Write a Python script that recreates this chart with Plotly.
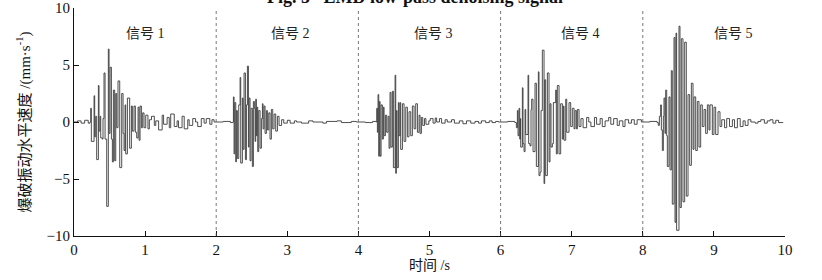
import plotly.graph_objects as go

# ---- data (time in s, velocity in mm/s) ----
t1 = [0.0, 0.05, 0.10, 0.15, 0.20, 0.225,
      0.235, 0.244, 0.282, 0.291, 0.305, 0.319, 0.343, 0.352, 0.366, 0.376, 0.399, 0.408,
      0.422, 0.437, 0.460, 0.483, 0.493, 0.507, 0.526, 0.540, 0.554, 0.572, 0.587, 0.601,
      0.619, 0.643, 0.671, 0.690, 0.704, 0.718, 0.727, 0.751, 0.783, 0.807, 0.821, 0.844,
      0.863, 0.882, 0.901, 0.915, 0.929, 0.948, 0.966, 0.985, 1.009,
      1.04, 1.06, 1.09, 1.13, 1.15, 1.19, 1.24, 1.26, 1.31, 1.34, 1.36, 1.41, 1.45, 1.47,
      1.52, 1.55, 1.60, 1.62, 1.67, 1.71, 1.74, 1.79, 1.83, 1.86, 1.91, 1.94, 1.97]
v1 = [0.0, 0.1, -0.1, 0.15, -0.1, 0.0,
      1.2, -1.7, 2.3, -1.3, 0.5, -3.3, 3.2, -0.8, 0.5, -1.4, -1.5, 0.3,
      4.3, -1.5, -7.4, 6.4, -1.0, 4.8, -1.5, -3.5, 2.8, -3.4, 2.5, -0.5,
      3.6, -4.0, 2.5, -1.0, -2.5, 1.5, -2.8, 2.1, -2.3, 1.4, -0.8, 1.4,
      -0.9, -1.4, 1.3, -1.6, 1.4, -0.5, 0.8, -0.5, 0.6,
      -0.6, 0.2, 0.5, -0.3, 0.1, -0.7, 0.6, -0.2, 0.4, -0.5, 0.7, -0.4, 0.1, -0.5,
      0.5, -0.6, 0.2, -0.3, 0.3, 0.0, -0.4, 0.3, -0.1, 0.3, -0.2, 0.2, 0.0]

t2 = [2.0, 2.1, 2.2, 2.235,
      2.242, 2.251, 2.261, 2.275, 2.284, 2.298, 2.317, 2.336, 2.345, 2.368, 2.378, 2.392,
      2.411, 2.425, 2.439, 2.453, 2.462, 2.476, 2.490, 2.509, 2.523, 2.537, 2.547, 2.556,
      2.565, 2.575, 2.584, 2.598, 2.617, 2.636, 2.650, 2.659, 2.673, 2.687, 2.706, 2.720,
      2.739, 2.757, 2.776, 2.795, 2.814, 2.837, 2.861, 2.884,
      2.92, 2.95, 3.0, 3.04, 3.1, 3.13, 3.2, 3.3, 3.36, 3.5, 3.55, 3.7, 3.76, 3.9, 3.97]
v2 = [0.0, 0.05, -0.05, 0.0,
      2.2, -2.8, 1.7, -3.5, 1.0, -3.2, 1.5, 3.9, -3.6, 2.1, -2.4, 4.3,
      -3.3, 1.5, 4.9, -2.2, 2.1, -3.4, 1.2, -3.9, 1.8, 1.2, -1.7, 2.0,
      -1.2, 1.3, -2.6, 1.0, -2.3, 0.3, 1.6, -0.6, 1.4, -1.0, 1.0, -0.7,
      0.8, -1.5, 1.1, -0.6, 0.7, -0.8, 0.5, -0.3,
      0.2, -0.1, 0.15, -0.1, 0.1, 0.0, -0.1, 0.1, 0.0, -0.1, 0.05, 0.1, -0.05, 0.05, 0.0]

t3 = [4.0, 4.1, 4.2, 4.25,
      4.258, 4.267, 4.276, 4.286, 4.295, 4.305, 4.319, 4.337, 4.351, 4.361, 4.380, 4.398,
      4.417, 4.431, 4.445, 4.459, 4.478, 4.492, 4.516, 4.525, 4.534, 4.544, 4.562, 4.572,
      4.586, 4.595, 4.619, 4.642, 4.666, 4.689, 4.712, 4.736, 4.759, 4.783, 4.806, 4.830,
      4.853, 4.867, 4.886, 4.905,
      4.93, 4.95, 4.99, 5.01, 5.05, 5.08, 5.10, 5.14, 5.17, 5.22, 5.25, 5.31, 5.35, 5.42,
      5.47, 5.52, 5.58, 5.64, 5.69, 5.73, 5.79, 5.84, 5.88, 5.93, 5.97]
v3 = [0.0, -0.05, 0.05, 0.0,
      1.2, -0.9, 2.4, -3.0, 1.8, -3.0, 1.5, -1.5, 1.3, -1.2, 0.6, -0.9,
      0.5, -2.3, 2.6, -2.2, 2.7, -4.0, 4.1, -4.5, 1.0, -4.0, 1.7, -1.2,
      1.7, -2.4, 1.6, -1.7, 1.3, -1.3, 0.9, -1.2, 1.4, -0.6, 1.6, -0.9,
      0.6, -1.0, 0.4, -0.3,
      0.3, -0.2, 0.1, 0.3, -0.1, 0.35, 0.0, 0.3, -0.1, 0.2, 0.0, 0.2, -0.1, 0.1,
      -0.15, 0.1, -0.1, 0.05, -0.1, 0.1, -0.05, 0.1, -0.05, 0.05, 0.0]

t4 = [6.0, 6.1, 6.2,
      6.222, 6.236, 6.245, 6.259, 6.269, 6.278, 6.283, 6.306, 6.315, 6.330, 6.344, 6.353,
      6.386, 6.395, 6.414, 6.428, 6.437, 6.456, 6.484, 6.503, 6.531, 6.540, 6.555, 6.569,
      6.587, 6.611, 6.620, 6.634, 6.658, 6.681, 6.695, 6.709, 6.728, 6.742, 6.775, 6.784,
      6.798, 6.822, 6.845, 6.869, 6.883, 6.892, 6.916, 6.930, 6.962, 6.986, 7.009, 7.033,
      7.047, 7.066, 7.080, 7.103,
      7.13, 7.16, 7.21, 7.24, 7.27, 7.32, 7.35, 7.40, 7.43, 7.47, 7.52, 7.55, 7.59, 7.64,
      7.67, 7.72, 7.75, 7.80, 7.84, 7.88, 7.92, 7.98]
v4 = [0.0, 0.05, -0.05,
      -0.5, 1.0, -1.2, 1.2, -1.5, 0.3, -2.2, 3.0, -1.9, -2.6, 1.1, -1.1,
      4.1, -1.9, -2.1, 1.1, 2.0, -2.6, 3.4, -3.9, 4.4, -4.7, -4.4, 1.0,
      6.3, -5.4, 3.7, -4.7, 4.3, -3.5, 1.6, -2.2, -1.9, 1.7, 2.8, -2.8,
      3.2, -2.8, 1.6, -1.5, 1.4, -1.6, 2.0, -0.9, 1.7, -0.4, 1.2, -0.6,
      1.0, -0.6, 1.1, -0.4,
      0.3, -0.5, 0.4, 0.0, -0.4, 0.4, -0.2, 0.3, -0.4, 0.1, 0.4, -0.2, 0.3, -0.3,
      0.1, -0.4, 0.2, -0.1, 0.2, -0.2, 0.2, 0.0]

t5 = [8.0, 8.1, 8.2,
      8.218, 8.233, 8.251, 8.261, 8.275, 8.289, 8.298, 8.312, 8.322, 8.336, 8.345, 8.368,
      8.383, 8.401, 8.415, 8.439, 8.453, 8.467, 8.476, 8.509, 8.523, 8.542, 8.565, 8.589,
      8.612, 8.636, 8.659, 8.683, 8.706, 8.720, 8.744, 8.767, 8.790, 8.814, 8.837, 8.861,
      8.884, 8.908, 8.931, 8.945, 8.978, 9.001, 9.025, 9.058, 9.086,
      9.11, 9.15, 9.18, 9.22, 9.26, 9.29, 9.33, 9.37, 9.41, 9.44, 9.48, 9.52, 9.58, 9.62,
      9.66, 9.71, 9.75, 9.79, 9.83, 9.87, 9.91, 9.97]
v5 = [0.0, 0.05, -0.05,
      -0.3, 0.5, 1.5, -0.7, -2.5, 0.5, 2.1, -1.0, 2.8, -1.2, -3.9, 2.2,
      -4.2, 4.5, -7.2, 7.4, -8.8, 7.8, -9.5, 8.4, -7.5, 7.3, -7.0, 7.0,
      -6.5, 2.4, -3.8, 3.4, -2.4, 2.2, -2.5, 1.8, -2.2, 1.5, -0.4, 1.1,
      -1.0, 1.5, -0.7, 1.5, -1.1, 1.3, -1.1, 0.9, -0.4,
      0.2, -0.5, 0.3, -0.4, 0.2, -0.5, 0.3, -0.4, 0.1, -0.3, 0.2, 0.0, -0.1, 0.05,
      0.2, -0.1, 0.1, 0.2, -0.1, 0.15, -0.05, 0.0]

segment_bounds = [2, 4, 6, 8]
signal_labels = ["信号 1", "信号 2", "信号 3", "信号 4", "信号 5"]
label_x = [1.0, 3.04, 5.05, 7.13, 9.28]
label_y = 7.8
x_ticks = [0, 1, 2, 3, 4, 5, 6, 7, 8, 9, 10]
y_ticks = [-10, -5, 0, 5, 10]

t_all = t1 + t2 + t3 + t4 + t5
v_all = v1 + v2 + v3 + v4 + v5

SERIF = "Liberation Serif, Noto Sans CJK SC, serif"

fig = go.Figure()
fig.add_trace(go.Scatter(
    x=t_all, y=v_all, mode="lines",
    line=dict(color="#3a3a3a", width=0.9, shape="hv"),
    hoverinfo="skip", showlegend=False,
))

for xb in segment_bounds:
    fig.add_vline(x=xb, line=dict(color="#555555", width=0.8, dash="dot"))

for txt, xl in zip(signal_labels, label_x):
    fig.add_annotation(x=xl, y=label_y, text=txt, showarrow=False,
                       font=dict(family=SERIF, size=14, color="#222"))

fig.add_annotation(xref="paper", yref="paper", x=0.48, y=1.0 + 11 / 228,
                   yanchor="middle", showarrow=False,
                   text="<b>Fig. 5   EMD low-pass denoising signal</b>",
                   font=dict(family=SERIF, size=18, color="#111"))

fig.update_layout(
    width=822, height=280,
    margin=dict(l=74, r=37, t=8, b=44, autoexpand=False),
    paper_bgcolor="white", plot_bgcolor="white",
    font=dict(family=SERIF, size=14, color="#111"),
    xaxis=dict(range=[0, 10], tickvals=x_ticks, ticks="inside", ticklen=5,
               tickcolor="#111", showline=True, linecolor="#111", linewidth=1,
               mirror=False, showgrid=False, zeroline=False, automargin=False,
               title=dict(text="时间 /s", standoff=2, font=dict(size=14)),
               tickfont=dict(size=15)),
    yaxis=dict(range=[-10, 10], tickvals=y_ticks, ticks="inside", ticklen=5,
               tickcolor="#111", showline=True, linecolor="#111", linewidth=1,
               mirror=False, showgrid=False, zeroline=False, automargin=False,
               title=dict(text="爆破振动水平速度 /(mm·s<sup>-1</sup>)", standoff=12,
                          font=dict(size=15)),
               tickfont=dict(size=15)),
)

fig.write_html("out.html", config={"displayModeBar": False},
               post_script="document.body.style.margin='0px';document.body.style.overflow='hidden';")
